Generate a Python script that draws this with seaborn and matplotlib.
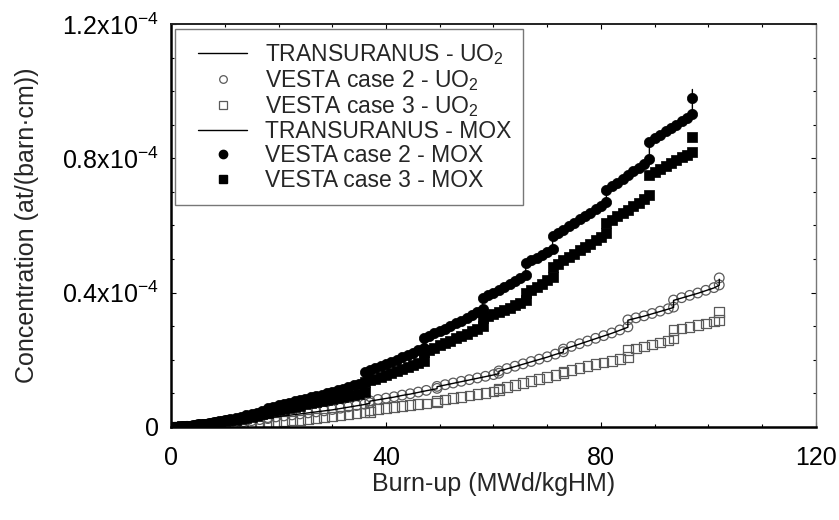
import matplotlib
matplotlib.use("Agg")
import matplotlib.pyplot as plt
from matplotlib.lines import Line2D
from matplotlib.patches import Rectangle
from matplotlib.ticker import MultipleLocator, FixedLocator
import seaborn as sns
import pandas as pd

# Burn-up grids (MWd/kgHM); repeated values mark the jumps between irradiation cycles
burnup_mox = [
    0, 1, 2, 3, 4, 5, 6, 7, 8, 9, 10, 11, 12, 13, 14, 15, 16, 17, 18,
    18, 19, 20, 21, 22, 23, 24, 25, 26, 27, 28, 29, 30, 31, 32, 33, 34, 35, 36,
    36, 37, 38, 39, 40, 41, 42, 43, 44, 45, 46, 47,
    47, 48, 49, 50, 51, 52, 53, 54, 55, 56, 57, 58,
    58, 59, 60, 61, 62, 63, 64, 65, 66,
    66, 67, 68, 69, 70, 71,
    71, 72, 73, 74, 75, 76, 77, 78, 79, 80, 81,
    81, 82, 83, 84, 85, 86, 87, 88, 89,
    89, 90, 91, 92, 93, 94, 95, 96, 97,
    97,
]
burnup_uo2 = [
    0, 1.5, 3, 4.5, 6, 7.5, 9, 10.5, 12, 13.5, 15, 16.5, 18,
    18, 19.5, 21, 22.5, 24, 25.5, 27, 28.5, 30, 31.5, 33, 34.5, 36, 37,
    37, 38.5, 40, 41.5, 43, 44.5, 46, 47.5, 49.5,
    49.5, 51, 52.5, 54, 55.5, 57, 58.5, 60, 61,
    61, 62.5, 64, 65.5, 67, 68.5, 70, 71.5, 73,
    73, 74.5, 76, 77.5, 79, 80.5, 82, 83.5, 85,
    85, 86.5, 88, 89.5, 91, 92.5, 93.5,
    93.5, 95, 96.5, 98, 99.5, 101, 102,
    102,
]

# Concentrations in units of 1e-4 at/(barn·cm)
tu_mox = [
    0, 0.001, 0.002, 0.003, 0.005, 0.007, 0.009, 0.012, 0.014, 0.017, 0.020, 0.023, 0.026,
    0.030, 0.033, 0.037, 0.041, 0.045, 0.049,
    0.054, 0.057, 0.061, 0.064, 0.068, 0.072, 0.075, 0.079, 0.083, 0.087, 0.091, 0.095, 0.099,
    0.104, 0.109, 0.114, 0.119, 0.124, 0.129,
    0.156, 0.162, 0.168, 0.174, 0.180, 0.186, 0.192, 0.199, 0.206, 0.213, 0.220, 0.228,
    0.257, 0.264, 0.271, 0.278, 0.285, 0.293, 0.301, 0.309, 0.317, 0.325, 0.333, 0.343,
    0.378, 0.386, 0.394, 0.402, 0.410, 0.419, 0.428, 0.437, 0.448,
    0.484, 0.492, 0.500, 0.508, 0.517, 0.527,
    0.567, 0.576, 0.585, 0.595, 0.605, 0.615, 0.625, 0.635, 0.645, 0.656, 0.668,
    0.705, 0.716, 0.727, 0.738, 0.749, 0.760, 0.771, 0.783, 0.797,
    0.850, 0.860, 0.870, 0.880, 0.890, 0.900, 0.910, 0.921, 0.932,
    1.005,
]
vesta2_mox = [
    0, 0.001, 0.002, 0.004, 0.005, 0.008, 0.010, 0.012, 0.015, 0.018, 0.021, 0.024, 0.028,
    0.031, 0.035, 0.039, 0.043, 0.047, 0.051,
    0.058, 0.061, 0.065, 0.068, 0.072, 0.076, 0.080, 0.084, 0.088, 0.092, 0.096, 0.100, 0.104,
    0.109, 0.114, 0.119, 0.124, 0.129, 0.134,
    0.164, 0.170, 0.176, 0.182, 0.188, 0.194, 0.200, 0.207, 0.214, 0.221, 0.228, 0.236,
    0.265, 0.272, 0.279, 0.286, 0.293, 0.301, 0.309, 0.317, 0.325, 0.333, 0.341, 0.350,
    0.384, 0.392, 0.400, 0.408, 0.416, 0.425, 0.434, 0.443, 0.453,
    0.488, 0.496, 0.504, 0.512, 0.521, 0.530,
    0.570, 0.579, 0.588, 0.598, 0.608, 0.618, 0.628, 0.638, 0.648, 0.659, 0.670,
    0.706, 0.717, 0.728, 0.739, 0.750, 0.761, 0.772, 0.784, 0.797,
    0.850, 0.860, 0.870, 0.880, 0.890, 0.900, 0.910, 0.921, 0.932,
    0.980,
]
vesta3_mox = [
    0, 0.001, 0.002, 0.003, 0.004, 0.006, 0.008, 0.010, 0.012, 0.015, 0.017, 0.020, 0.022,
    0.025, 0.028, 0.031, 0.034, 0.038, 0.041,
    0.046, 0.049, 0.052, 0.055, 0.058, 0.061, 0.064, 0.067, 0.070, 0.073, 0.076, 0.079, 0.082,
    0.085, 0.088, 0.091, 0.095, 0.099, 0.104,
    0.134, 0.139, 0.144, 0.149, 0.154, 0.160, 0.166, 0.172, 0.178, 0.184, 0.190, 0.196,
    0.222, 0.229, 0.236, 0.243, 0.250, 0.257, 0.264, 0.271, 0.278, 0.285, 0.292, 0.300,
    0.325, 0.331, 0.337, 0.343, 0.349, 0.355, 0.362, 0.370, 0.378,
    0.400, 0.409, 0.418, 0.427, 0.437, 0.447,
    0.476, 0.486, 0.496, 0.506, 0.516, 0.526, 0.536, 0.546, 0.556, 0.567, 0.578,
    0.607, 0.617, 0.627, 0.637, 0.647, 0.657, 0.667, 0.678, 0.690,
    0.750, 0.758, 0.767, 0.776, 0.785, 0.794, 0.803, 0.811, 0.820,
    0.864,
]
tu_uo2 = [
    0, 0.001, 0.002, 0.003, 0.005, 0.007, 0.009, 0.011, 0.013, 0.016, 0.019, 0.022, 0.025,
    0.027, 0.030, 0.033, 0.036, 0.039, 0.042, 0.045, 0.048, 0.051, 0.055, 0.059, 0.063, 0.067, 0.071,
    0.077, 0.081, 0.085, 0.089, 0.094, 0.098, 0.103, 0.108, 0.114,
    0.120, 0.125, 0.130, 0.135, 0.140, 0.145, 0.150, 0.155, 0.159,
    0.166, 0.173, 0.180, 0.187, 0.194, 0.201, 0.208, 0.216, 0.223,
    0.231, 0.239, 0.247, 0.255, 0.263, 0.271, 0.279, 0.288, 0.297,
    0.318, 0.324, 0.330, 0.337, 0.344, 0.351, 0.356,
    0.377, 0.384, 0.391, 0.398, 0.406, 0.414, 0.422,
    0.440,
]
vesta2_uo2 = [
    0, 0.001, 0.002, 0.003, 0.005, 0.007, 0.009, 0.011, 0.014, 0.016, 0.019, 0.022, 0.025,
    0.028, 0.030, 0.033, 0.036, 0.039, 0.042, 0.045, 0.048, 0.052, 0.056, 0.060, 0.064, 0.068, 0.072,
    0.078, 0.082, 0.086, 0.090, 0.095, 0.099, 0.104, 0.109, 0.115,
    0.121, 0.126, 0.131, 0.136, 0.141, 0.146, 0.151, 0.156, 0.160,
    0.167, 0.174, 0.181, 0.188, 0.195, 0.202, 0.209, 0.217, 0.224,
    0.232, 0.240, 0.248, 0.256, 0.264, 0.272, 0.280, 0.289, 0.298,
    0.319, 0.325, 0.331, 0.338, 0.345, 0.352, 0.357,
    0.378, 0.385, 0.392, 0.399, 0.407, 0.415, 0.423,
    0.444,
]
vesta3_uo2 = [
    0, 0.000, 0.001, 0.001, 0.002, 0.003, 0.004, 0.005, 0.006, 0.007, 0.008, 0.009, 0.011,
    0.013, 0.015, 0.017, 0.019, 0.021, 0.023, 0.026, 0.028, 0.031, 0.034, 0.037, 0.040, 0.043, 0.045,
    0.050, 0.053, 0.056, 0.059, 0.062, 0.065, 0.068, 0.070, 0.073,
    0.078, 0.082, 0.086, 0.090, 0.094, 0.098, 0.102, 0.106, 0.110,
    0.115, 0.120, 0.125, 0.131, 0.137, 0.143, 0.149, 0.155, 0.160,
    0.165, 0.170, 0.176, 0.182, 0.187, 0.192, 0.197, 0.202, 0.208,
    0.229, 0.234, 0.240, 0.246, 0.252, 0.258, 0.265,
    0.289, 0.293, 0.298, 0.303, 0.308, 0.314, 0.319,
    0.343,
]

x_ticks = [0, 40, 80, 120]
x_ticklabels = ["0", "40", "80", "120"]
y_ticks = [0, 0.4, 0.8, 1.2]
y_ticklabels = ["0", "0.4x10$^{-4}$", "0.8x10$^{-4}$", "1.2x10$^{-4}$"]
legend_labels = [
    "TRANSURANUS - UO$_2$",
    "VESTA case 2 - UO$_2$",
    "VESTA case 3 - UO$_2$",
    "TRANSURANUS - MOX",
    "VESTA case 2 - MOX",
    "VESTA case 3 - MOX",
]

sns.set_style("ticks")
plt.rcParams["font.family"] = ["Liberation Sans", "DejaVu Sans"]
plt.rcParams["mathtext.fontset"] = "custom"
plt.rcParams["mathtext.rm"] = "Liberation Sans"
plt.rcParams["mathtext.it"] = "Liberation Sans"
plt.rcParams["mathtext.bf"] = "Liberation Sans"
plt.rcParams["mathtext.default"] = "regular"

df_mox = pd.DataFrame({"burnup": burnup_mox, "tu": tu_mox, "v2": vesta2_mox, "v3": vesta3_mox})
df_uo2 = pd.DataFrame({"burnup": burnup_uo2, "tu": tu_uo2, "v2": vesta2_uo2, "v3": vesta3_uo2})

fig = plt.figure(figsize=(8.39, 5.20), dpi=100)
ax = fig.add_axes([171 / 839, 1 - 427 / 520, 645 / 839, 403 / 520])

open_grey = "#5a5a5a"
ms_open = 48
ms_fill = 55

# UO2 results
sns.scatterplot(data=df_uo2, x="burnup", y="v3", ax=ax, marker="s", s=ms_open,
                facecolor="none", edgecolor=open_grey, linewidth=0.9, zorder=2)
sns.scatterplot(data=df_uo2, x="burnup", y="v2", ax=ax, marker="o", s=ms_open,
                facecolor="none", edgecolor=open_grey, linewidth=0.9, zorder=2)
sns.lineplot(data=df_uo2, x="burnup", y="tu", ax=ax, sort=False, estimator=None,
             color="black", linewidth=1.0, zorder=3)

# MOX results
sns.scatterplot(data=df_mox, x="burnup", y="v3", ax=ax, marker="s", s=ms_fill,
                color="black", edgecolor="black", linewidth=0.5, zorder=4)
sns.scatterplot(data=df_mox, x="burnup", y="v2", ax=ax, marker="o", s=ms_fill,
                color="black", edgecolor="black", linewidth=0.5, zorder=4)
sns.lineplot(data=df_mox, x="burnup", y="tu", ax=ax, sort=False, estimator=None,
             color="black", linewidth=1.0, zorder=5)

ax.set_xlim(0, 120)
ax.set_ylim(0, 1.2)
ax.xaxis.set_major_locator(FixedLocator(x_ticks))
ax.set_xticklabels(x_ticklabels)
ax.xaxis.set_minor_locator(MultipleLocator(10))
ax.yaxis.set_major_locator(FixedLocator(y_ticks))
ax.set_yticklabels(y_ticklabels)
ax.yaxis.set_minor_locator(MultipleLocator(0.1))

ax.tick_params(axis="both", which="both", direction="in", top=True, right=True,
               colors="black", labelsize=18)
ax.tick_params(axis="both", which="major", length=3.5, width=0.8)
ax.tick_params(axis="both", which="minor", length=2.5, width=0.8)
ax.tick_params(axis="x", which="major", pad=14)
ax.tick_params(axis="y", which="major", pad=9)

for side in ("left", "bottom"):
    ax.spines[side].set_linewidth(1.8)
    ax.spines[side].set_color("black")
ax.spines["top"].set_linewidth(1.4)
ax.spines["top"].set_color("#222222")
ax.spines["right"].set_linewidth(1.0)
ax.spines["right"].set_color("#777777")

ax.set_xlabel("Burn-up (MWd/kgHM)", fontsize=18)
ax.set_ylabel("Concentration (at/(barn·cm))", fontsize=18)
ax.xaxis.set_label_coords(0.5, -0.112)
ax.yaxis.set_label_coords(-0.205, 0.5)

# Legend box outline, drawn as its own rectangle so the entries can sit inset
ax.add_patch(Rectangle((0.0062, 0.551), 0.5395, 0.4366, transform=ax.transAxes,
                       facecolor="white", edgecolor="#777777", linewidth=1.0, zorder=6))

handles = [
    Line2D([], [], color="black", linewidth=1.0),
    Line2D([], [], ls="none", marker="o", ms=5.5, mfc="none", mec=open_grey, mew=0.9),
    Line2D([], [], ls="none", marker="s", ms=5.5, mfc="none", mec=open_grey, mew=0.9),
    Line2D([], [], color="black", linewidth=1.0),
    Line2D([], [], ls="none", marker="o", ms=6, mfc="black", mec="black"),
    Line2D([], [], ls="none", marker="s", ms=6, mfc="black", mec="black"),
]
leg = ax.legend(handles, legend_labels, loc="upper left", bbox_to_anchor=(0.0419, 0.955),
                borderaxespad=0, borderpad=0, fontsize=16.5, frameon=False,
                handlelength=2.14, handletextpad=0.79, labelspacing=0.05)
leg.set_zorder(7)

fig.savefig("out.png", dpi=100)
